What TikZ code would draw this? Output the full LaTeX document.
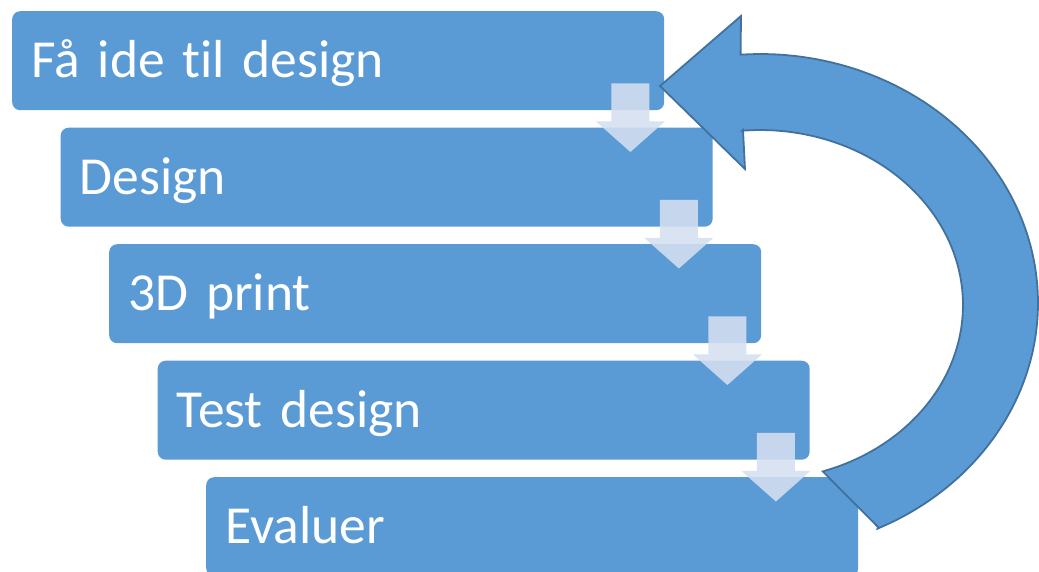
\documentclass[tikz,border=0pt]{standalone}
\usepackage{fontspec}
\setmainfont{Carlito}[Ligatures=NoCommon, WordSpace=0.75]
\usetikzlibrary{calc}
\definecolor{stepcolor}{RGB}{91,155,213}
\definecolor{loopline}{RGB}{65,113,156}
\definecolor{flowcolor}{RGB}{213,223,240}

\begin{document}
\begin{tikzpicture}[x=1pt, y=-1pt,
    stepbox/.style={fill=stepcolor, rounded corners=8pt, anchor=north west, minimum height=99pt, text width=614pt, inner xsep=19pt, inner ysep=0pt, align=left, text=white, font=\fontsize{53.5}{60}\selectfont, text height=34pt, text depth=0pt},
    flow/.style={fill=flowcolor, fill opacity=0.88},
    loop/.style={fill=stepcolor, draw=loopline, line width=1.8pt, line join=miter},
]
    \useasboundingbox (0,0) rectangle (1039,572);

    % Steps
    \node[stepbox] (idea) at (12,11) {Få ide til design};
    \node[stepbox] (design) at (60.5,127.5) {Design};
    \node[stepbox] (print) at (109,244) {3D print};
    \node[stepbox] (test) at (157.5,360.5) {Test design};
    \node[stepbox] (eval) at (206,477) {Evaluer};

    % Loop back
    \draw[loop] (741,16) -- (660,86) -- (745,169) -- (743,130)
        -- plot[domain=-95:72, smooth, samples=40, variable=\t] ({760+203*cos(\t)}, {305+175*sin(\t)})
        -- (878,527)
        -- plot[domain=65:-94, smooth, samples=40, variable=\t] ({760+278*cos(\t)}, {303+249*sin(\t)})
        -- cycle;

    % Flow arrows
    \foreach \a/\b in {idea/design, design/print, print/test, test/eval}
        \fill[flow] ($(\a.south east)+(-53,-27)$) -- ($(\a.south east)+(-15,-27)$)
            -- ($(\a.south east)+(-15,11)$) -- ($(\a.south east)+(0.5,11)$)
            -- ($(\b.north east)+(-82.5,24.5)$)
            -- ($(\a.south east)+(-68.5,11)$) -- ($(\a.south east)+(-53,11)$) -- cycle;

\end{tikzpicture}
\end{document}
